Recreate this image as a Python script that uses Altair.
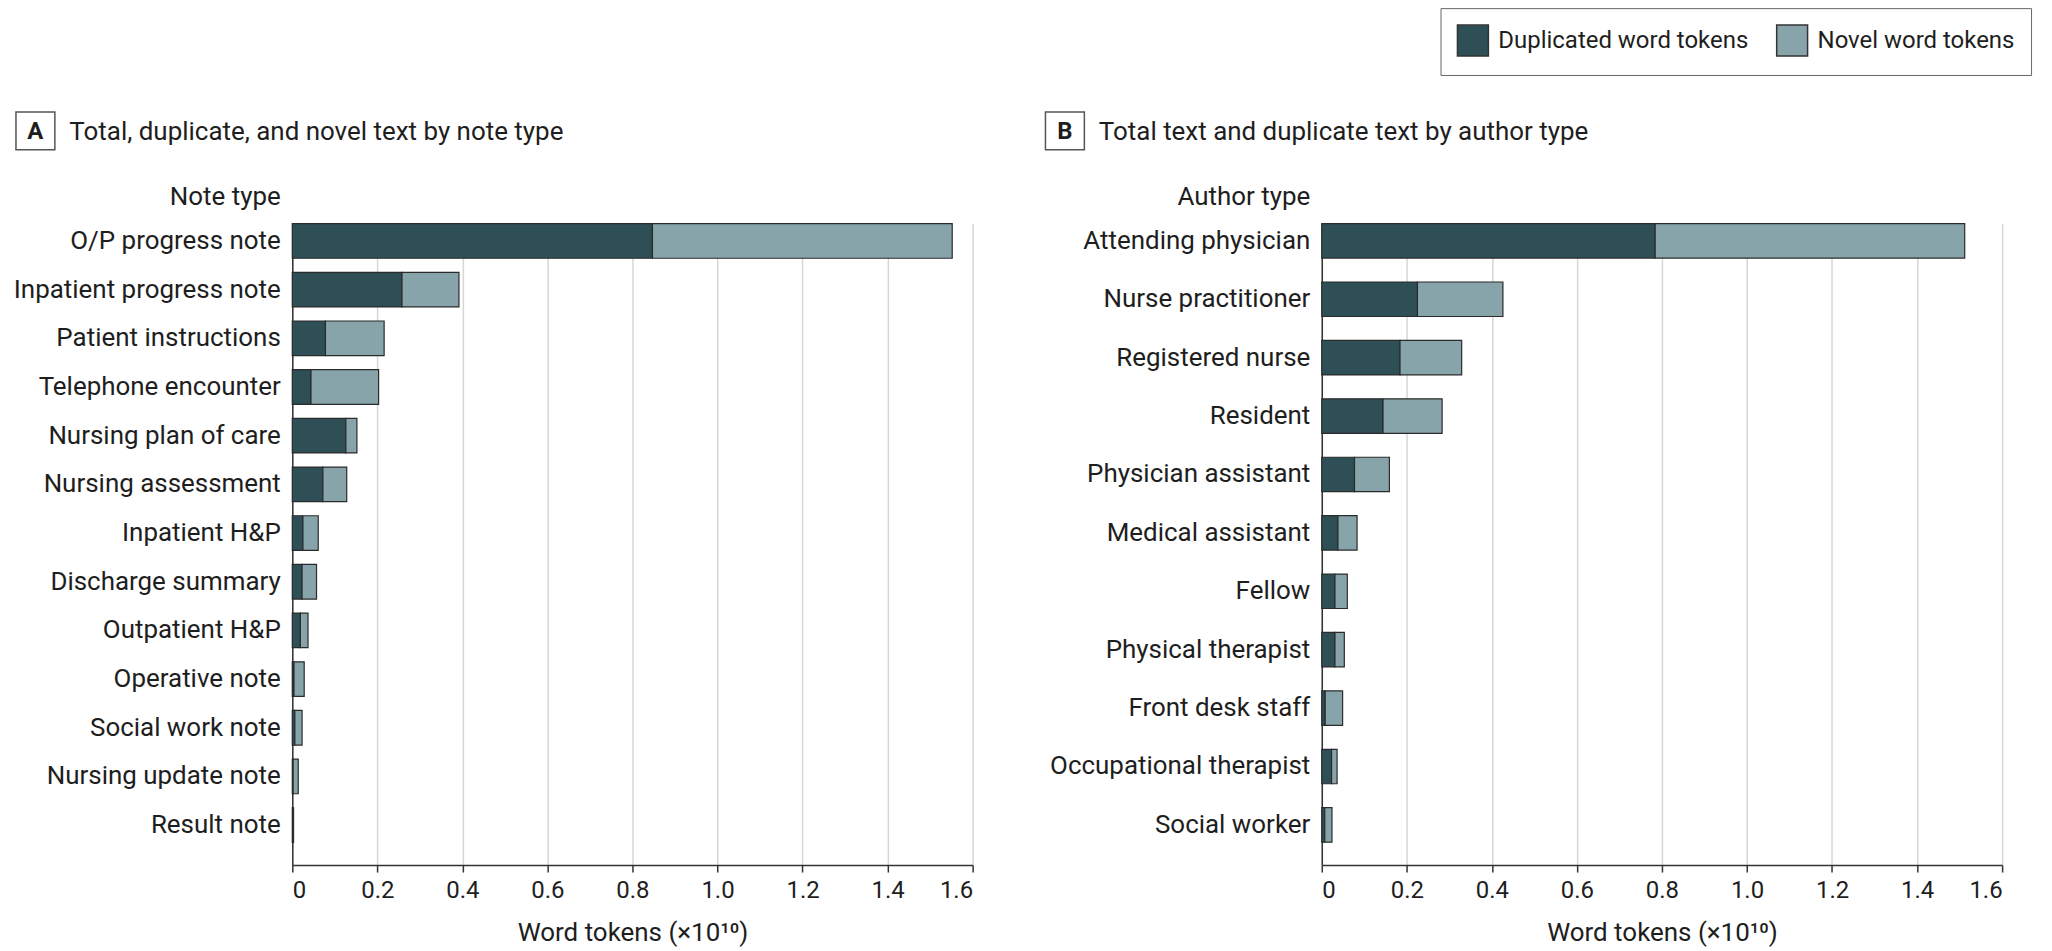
import altair as alt
import pandas as pd

# Panel A: note types (word tokens, x10^10)
note_types = [
    "O/P progress note", "Inpatient progress note", "Patient instructions",
    "Telephone encounter", "Nursing plan of care", "Nursing assessment",
    "Inpatient H&P", "Discharge summary", "Outpatient H&P", "Operative note",
    "Social work note", "Nursing update note", "Result note",
]
note_duplicated = [0.847, 0.258, 0.078, 0.044, 0.126, 0.072, 0.025, 0.023, 0.019, 0.004, 0.006, 0.002, 0.002]
note_total = [1.552, 0.392, 0.216, 0.203, 0.152, 0.128, 0.061, 0.057, 0.037, 0.028, 0.023, 0.014, 0.003]

# Panel B: author types (word tokens, x10^10)
author_types = [
    "Attending physician", "Nurse practitioner", "Registered nurse", "Resident",
    "Physician assistant", "Medical assistant", "Fellow", "Physical therapist",
    "Front desk staff", "Occupational therapist", "Social worker",
]
author_duplicated = [0.784, 0.225, 0.184, 0.144, 0.077, 0.038, 0.031, 0.031, 0.008, 0.023, 0.007]
author_total = [1.512, 0.426, 0.329, 0.283, 0.159, 0.083, 0.060, 0.053, 0.049, 0.036, 0.024]

segments = ["Duplicated word tokens", "Novel word tokens"]
segment_colors = ["#2f4f56", "#87a4ab"]
x_ticks = [0, 0.2, 0.4, 0.6, 0.8, 1.0, 1.2, 1.4, 1.6]

FONT = "Roboto"
INK = "#1e1e1e"
PANEL_W = 682
PANEL_H = 643


def segment_table(categories, duplicated, total):
    rows = []
    for cat, dup, tot in zip(categories, duplicated, total):
        rows.append({"category": cat, "segment": segments[0], "start": 0.0, "end": dup})
        rows.append({"category": cat, "segment": segments[1], "start": dup, "end": tot})
    return pd.DataFrame(rows)


color_enc = alt.Color(
    "segment:N",
    scale=alt.Scale(domain=segments, range=segment_colors),
    legend=alt.Legend(
        title=None,
        orient="none",
        legendX=1151,
        legendY=-216,
        direction="horizontal",
        symbolType="square",
        symbolSize=961,
        symbolStrokeColor="#333333",
        symbolStrokeWidth=1.5,
        symbolOpacity=1,
        labelFont=FONT,
        labelFontSize=24,
        labelColor=INK,
        labelLimit=0,
        labelOffset=9,
        columnPadding=25,
        padding=16,
        strokeColor="#666666",
        cornerRadius=0,
    ),
)


def panel(letter, heading, axis_title, categories, duplicated, total, pad_inner, pad_outer):
    df = segment_table(categories, duplicated, total)
    bars = alt.Chart(df).mark_bar(stroke="#2b2b2b", strokeWidth=1.2).encode(
        x=alt.X(
            "start:Q",
            scale=alt.Scale(domain=[0, 1.6], nice=False, zero=True),
            axis=alt.Axis(
                values=x_ticks,
                labelExpr="datum.value == 0 ? '0' : format(datum.value, '.1f')",
                title="Word tokens (×10¹⁰)",
                titleY=68,
                titleBaseline="middle",
                grid=True,
                gridColor="#d6d6d6",
                gridWidth=1.5,
                domainColor="#333333",
                domainWidth=1.5,
                tickColor="#333333",
                tickWidth=1.5,
                tickSize=7,
                labelPadding=7,
                labelFontSize=24,
            ),
        ),
        x2="end:Q",
        y=alt.Y(
            "category:N",
            sort=categories,
            scale=alt.Scale(paddingInner=pad_inner, paddingOuter=pad_outer, align=0),
            axis=alt.Axis(
                title=axis_title,
                titleAngle=0,
                titleAlign="right",
                titleBaseline="middle",
                titleX=-12,
                titleY=-27,
                ticks=False,
                grid=False,
                domainColor="#333333",
                domainWidth=1.5,
                labelPadding=12,
                labelFontSize=26,
                labelLimit=0,
            ),
        ),
        color=color_enc,
        order=alt.Order("start:Q"),
    )

    head = pd.DataFrame({"letter": [letter], "heading": [heading]})
    box = alt.Chart(head).mark_rect(fill="white", stroke="#555555", strokeWidth=1.5).encode(
        x=alt.value(-277), x2=alt.value(-238), y=alt.value(-112), y2=alt.value(-74)
    )
    letter_mark = alt.Chart(head).mark_text(
        font=FONT, fontSize=24, fontWeight="bold", color=INK, align="center", baseline="middle"
    ).encode(x=alt.value(-257.5), y=alt.value(-92), text="letter:N")
    heading_mark = alt.Chart(head).mark_text(
        font=FONT, fontSize=26, color=INK, align="left", baseline="middle"
    ).encode(x=alt.value(-223.5), y=alt.value(-92), text="heading:N")

    return alt.layer(bars, box, letter_mark, heading_mark).properties(width=PANEL_W, height=PANEL_H)


panel_a = panel("A", "Total, duplicate, and novel text by note type", "Note type",
                note_types, note_duplicated, note_total, 0.289, 0.232)
panel_b = panel("B", "Total text and duplicate text by author type", "Author type",
                author_types, author_duplicated, author_total, 0.41, 0.196)

chart = (
    alt.hconcat(panel_a, panel_b, spacing=350, bounds="flush")
    .properties(padding={"left": 13, "top": 6, "right": 20, "bottom": 4}, background="white")
    .configure_view(strokeWidth=0)
    .configure_axis(
        labelFont=FONT,
        titleFont=FONT,
        labelColor=INK,
        titleColor=INK,
        titleFontSize=26,
        titleFontWeight="normal",
    )
)

chart.save("out.html", embed_options={"renderer": "svg", "actions": False})
